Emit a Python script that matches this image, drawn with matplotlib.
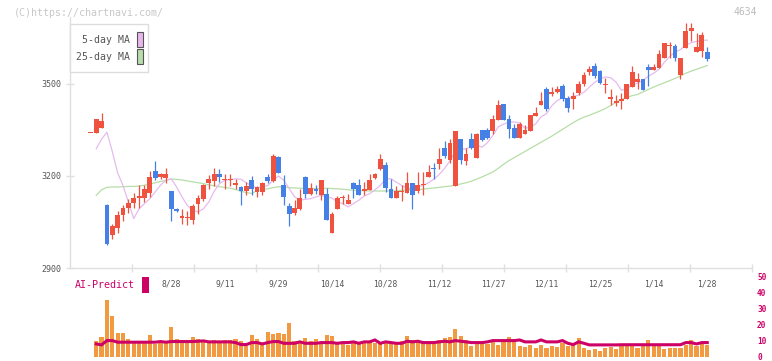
import matplotlib
matplotlib.use('Agg')
import matplotlib.pyplot as plt
import numpy as np
from matplotlib.patches import Rectangle

plt.rcParams['font.family'] = ['DejaVu Sans Mono']

# ---------------- data ----------------
# first entry is the lone doji before the first full trading day shown
open_ = [3341,
 3341, 3358, 3104, 3006, 3031, 3074, 3094, 3112, 3128, 3129,
 3145, 3215, 3198, 3193, 3152, 3093, 3064, 3062, 3055, 3110,
 3126, 3178, 3185, 3206, 3188, 3188, 3169, 3163, 3150, 3188,
 3148, 3148, 3198, 3185, 3262, 3172, 3103, 3080, 3093, 3198,
 3140, 3159, 3137, 3142, 3015, 3093, 3127, 3110, 3178, 3172,
 3150, 3155, 3194, 3224, 3235, 3159, 3129, 3149, 3145, 3178,
 3150, 3171, 3198, 3226, 3240, 3292, 3253, 3166, 3322, 3250,
 3322, 3260, 3351, 3351, 3348, 3384, 3436, 3387, 3357, 3325,
 3338, 3348, 3396, 3432, 3485, 3468, 3475, 3495, 3455, 3450,
 3472, 3500, 3539, 3558, 3541, 3497, 3452, 3439, 3443, 3452,
 3489, 3508, 3517, 3555, 3544, 3553, 3585, 3624, 3624, 3528,
 3618, 3672, 3604, 3607, 3604]
high = [3341,
 3387, 3406, 3109, 3044, 3087, 3107, 3126, 3146, 3172, 3172,
 3215, 3248, 3211, 3227, 3152, 3095, 3093, 3087, 3109, 3137,
 3174, 3204, 3227, 3224, 3206, 3206, 3191, 3167, 3180, 3200,
 3167, 3182, 3208, 3273, 3265, 3202, 3113, 3122, 3159, 3200,
 3178, 3172, 3188, 3162, 3082, 3136, 3139, 3142, 3182, 3191,
 3182, 3208, 3210, 3273, 3245, 3189, 3168, 3169, 3214, 3178,
 3214, 3214, 3236, 3243, 3292, 3313, 3322, 3348, 3322, 3292,
 3341, 3341, 3351, 3355, 3400, 3447, 3436, 3400, 3370, 3377,
 3365, 3400, 3426, 3475, 3490, 3490, 3495, 3500, 3460, 3475,
 3510, 3540, 3560, 3569, 3545, 3520, 3483, 3463, 3472, 3501,
 3559, 3537, 3517, 3566, 3566, 3612, 3635, 3637, 3631, 3585,
 3700, 3700, 3667, 3670, 3621]
low = [3341,
 3341, 3358, 2974, 2995, 3015, 3052, 3080, 3094, 3094, 3115,
 3131, 3188, 3191, 3178, 3052, 3083, 3044, 3041, 3044, 3077,
 3120, 3156, 3167, 3180, 3156, 3167, 3156, 3106, 3139, 3137,
 3130, 3139, 3176, 3180, 3211, 3106, 3036, 3074, 3090, 3128,
 3138, 3142, 3123, 3057, 3015, 3093, 3110, 3110, 3129, 3139,
 3137, 3155, 3190, 3220, 3148, 3129, 3129, 3120, 3145, 3093,
 3145, 3139, 3198, 3191, 3222, 3259, 3243, 3166, 3240, 3236,
 3289, 3260, 3313, 3320, 3338, 3384, 3384, 3325, 3325, 3325,
 3338, 3348, 3396, 3432, 3411, 3460, 3470, 3445, 3409, 3419,
 3465, 3495, 3530, 3520, 3499, 3472, 3432, 3428, 3419, 3452,
 3489, 3485, 3479, 3495, 3544, 3553, 3585, 3585, 3574, 3515,
 3618, 3641, 3604, 3588, 3574]
close = [3341,
 3387, 3380, 2979, 3036, 3074, 3097, 3113, 3129, 3135, 3159,
 3198, 3193, 3206, 3207, 3091, 3085, 3068, 3066, 3102, 3129,
 3169, 3189, 3206, 3198, 3190, 3190, 3178, 3150, 3167, 3156,
 3163, 3178, 3185, 3265, 3211, 3130, 3076, 3097, 3129, 3140,
 3162, 3150, 3188, 3057, 3076, 3129, 3129, 3122, 3156, 3139,
 3159, 3188, 3207, 3256, 3162, 3129, 3150, 3151, 3178, 3139,
 3172, 3173, 3214, 3222, 3256, 3264, 3309, 3348, 3251, 3273,
 3292, 3338, 3318, 3325, 3387, 3432, 3384, 3354, 3325, 3368,
 3349, 3400, 3406, 3443, 3419, 3475, 3485, 3452, 3422, 3462,
 3500, 3530, 3550, 3525, 3504, 3501, 3456, 3443, 3452, 3501,
 3539, 3517, 3481, 3544, 3555, 3598, 3635, 3628, 3585, 3585,
 3674, 3684, 3621, 3661, 3582]

ma5 = [3289, 3320, 3343, 3280, 3210, 3169, 3115, 3061, 3093, 3110,
 3126, 3148, 3170, 3186, 3191, 3164, 3132, 3104, 3088, 3083,
 3093, 3115, 3150, 3175, 3186, 3188, 3191, 3189, 3178, 3168,
 3161, 3164, 3169, 3186, 3200, 3186, 3159, 3132, 3121, 3124,
 3126, 3132, 3137, 3132, 3128, 3115, 3110, 3099, 3110, 3121,
 3135, 3142, 3155, 3169, 3191, 3191, 3180, 3169, 3159, 3160,
 3164, 3170, 3178, 3190, 3205, 3225, 3250, 3280, 3286, 3289,
 3295, 3300, 3294, 3309, 3332, 3360, 3369, 3376, 3376, 3373,
 3356, 3359, 3370, 3393, 3403, 3429, 3446, 3455, 3451, 3459,
 3464, 3473, 3490, 3505, 3517, 3523, 3520, 3506, 3479, 3485,
 3495, 3503, 3512, 3525, 3535, 3548, 3571, 3590, 3604, 3612,
 3626, 3635, 3639, 3642, 3643]
ma25 = [3137, 3155, 3163, 3164, 3164, 3165, 3166, 3166, 3167, 3170,
 3174, 3178, 3182, 3186, 3190, 3189, 3187, 3184, 3181, 3178,
 3175, 3171, 3168, 3165, 3163, 3160, 3156, 3150, 3146, 3143,
 3152, 3156, 3158, 3162, 3165, 3164, 3162, 3161, 3160, 3159,
 3159, 3159, 3159, 3160, 3159, 3158, 3157, 3155, 3154, 3153,
 3152, 3151, 3151, 3151, 3151, 3151, 3152, 3153, 3154, 3155,
 3156, 3157, 3159, 3161, 3163, 3165, 3167, 3170, 3174, 3178,
 3183, 3190, 3197, 3205, 3213, 3225, 3238, 3250, 3260, 3270,
 3280, 3290, 3300, 3310, 3320, 3330, 3341, 3352, 3363, 3374,
 3384, 3392, 3398, 3405, 3412, 3420, 3430, 3440, 3450, 3456,
 3462, 3466, 3474, 3482, 3490, 3497, 3504, 3511, 3518, 3526,
 3535, 3542, 3548, 3554, 3560]

volume = [9.6, 12.5, 35.8, 25.6, 14.6, 14.6, 10.8, 8.75, 8.75, 8.75,
 13.3, 7.7, 8.75, 8.75, 18.3, 10.8, 10.0, 8.75, 12.0, 10.8,
 10.0, 8.75, 10.4, 9.4, 10.4, 10.4, 11.25, 10.0, 6.7, 13.75,
 11.25, 8.75, 15.6, 14.4, 15.0, 14.4, 21.25, 10.0, 8.75, 11.9,
 10.0, 11.25, 8.75, 13.75, 13.1, 8.3, 8.75, 7.1, 10.0, 7.9,
 8.75, 9.2, 8.75, 8.75, 8.75, 8.75, 7.9, 9.6, 13.1, 10.6,
 10.0, 8.75, 7.9, 8.75, 10.6, 11.9, 12.5, 17.5, 13.1, 10.6,
 6.9, 8.75, 8.75, 7.9, 9.4, 7.5, 10.0, 12.5, 10.0, 6.9,
 6.25, 7.5, 5.6, 7.5, 5.6, 6.9, 6.25, 8.75, 6.9, 7.5,
 11.9, 5.6, 4.4, 5.0, 3.75, 5.6, 6.25, 5.0, 6.5, 6.5,
 6.5, 5.6, 6.5, 10.6, 6.5, 6.5, 5.0, 5.6, 5.6, 5.6,
 7.5, 10.6, 6.9, 9.2, 7.5]
ai_predict = [7.9, 7.3, 10.0, 10.0, 9.0, 9.0, 9.0, 9.0, 9.0, 9.0,
 9.0, 9.0, 9.4, 9.0, 9.4, 9.4, 9.4, 9.4, 9.4, 9.6,
 9.8, 9.2, 9.2, 9.2, 9.2, 9.2, 8.75, 7.5, 7.5, 8.75,
 8.75, 7.9, 8.75, 9.4, 9.4, 8.3, 8.3, 8.3, 9.2, 8.3,
 8.3, 8.3, 8.75, 8.75, 8.75, 8.3, 8.75, 8.75, 9.2, 8.3,
 9.2, 9.2, 10.4, 8.3, 9.2, 8.75, 8.3, 8.3, 9.6, 9.2,
 9.6, 8.75, 8.75, 8.75, 9.2, 9.6, 9.2, 10.0, 9.6, 9.2,
 8.75, 8.75, 8.75, 9.2, 10.0, 10.0, 10.0, 10.0, 10.0, 10.4,
 9.2, 9.2, 9.2, 10.4, 9.2, 9.2, 9.2, 10.0, 8.3, 7.5,
 9.2, 8.3, 7.3, 7.3, 7.3, 7.3, 7.3, 7.3, 7.4, 7.4,
 7.4, 7.4, 7.4, 7.4, 7.4, 7.4, 7.4, 7.4, 7.4, 7.4,
 8.75, 8.75, 7.9, 8.75, 8.75]

date_labels = ['8/28', '9/11', '9/29', '10/14', '10/28', '11/12',
               '11/27', '12/11', '12/25', '1/14', '1/28']
price_ticks = [2900, 3200, 3500]
ai_ticks = [0, 10, 20, 30, 40, 50]

# ---------------- styling ----------------
UP = '#ef5340'
DOWN = '#4580e6'
MA5_C = '#e6bbef'
MA25_C = '#b6dea8'
VOL_C = '#f29a42'
AI_C = '#cc0066'
GRID_C = '#e0e0e0'
TXT_C = '#555555'

W, H = 772, 361
fig = plt.figure(figsize=(W / 100, H / 100), dpi=100)


def frac(x0, y0, x1, y1):
    return [x0 / W, 1 - y1 / H, (x1 - x0) / W, (y1 - y0) / H]


XLIM = (-4.89, 122.35)

o = np.array(open_, float)
h = np.array(high, float)
l = np.array(low, float)
c = np.array(close, float)
xc = np.arange(len(o)) - 1          # candle positions (pre-day at -1)
xd = np.arange(len(volume))         # daily positions

# ---------------- price panel ----------------
ax = fig.add_axes(frac(70, 16.5, 752, 268))
ax.set_xlim(*XLIM)
ax.set_ylim(2900, 3720)
ax.set_facecolor('none')

ax.plot(xd, ma25, color=MA25_C, lw=0.9, zorder=2)
ax.plot(xd, ma5, color=MA5_C, lw=0.9, zorder=2)

cols = [UP if cc >= oo else DOWN for oo, cc in zip(o, c)]
ax.vlines(xc, l, h, colors=cols, lw=0.9, zorder=3)
ax.bar(xc, np.maximum(np.abs(c - o), 3.0), bottom=np.minimum(o, c),
       width=0.9, color=cols, linewidth=0, zorder=4)

for s in ('top', 'right'):
    ax.spines[s].set_visible(False)
for s in ('left', 'bottom'):
    ax.spines[s].set_color(GRID_C)
    ax.spines[s].set_linewidth(1.0)

ax.set_yticks(price_ticks)
ax.set_yticklabels([str(v) for v in price_ticks])
ax.tick_params(axis='y', direction='inout', length=6, width=1, color=GRID_C,
               pad=3.5, labelsize=6, labelcolor=TXT_C)
ax.set_xticks(np.arange(14, 115, 10))
ax.set_xticklabels(date_labels)
ax.tick_params(axis='x', which='major', length=0, pad=8.5, labelsize=5.8,
               labelcolor=TXT_C)
ax.set_xticks(np.linspace(XLIM[0], XLIM[1], 12)[1:], minor=True)
ax.tick_params(axis='x', which='minor', direction='inout', length=6,
               width=1, color=GRID_C)

# ---------------- AI-predict / volume panel ----------------
ax2 = fig.add_axes(frac(70, 277, 752, 356.5))
ax2.set_xlim(*XLIM)
ax2.set_ylim(0, 50)
ax2.set_facecolor('none')
ax2.bar(xd, volume, width=0.78, color=VOL_C, linewidth=0, zorder=2)
ax2.plot(xd, ai_predict, color=AI_C, lw=2.2, zorder=3,
         solid_joinstyle='miter')
for s in ax2.spines.values():
    s.set_visible(False)
ax2.set_xticks([])
ax2.yaxis.tick_right()
ax2.set_yticks(ai_ticks)
ax2.set_yticklabels([str(v) for v in ai_ticks])
ax2.tick_params(axis='y', length=0, pad=3.6, labelsize=5.6,
                labelcolor=AI_C)
for t in ax2.get_yticklabels():
    t.set_fontweight('bold')

# ---------------- overlay texts / legend ----------------
ov = fig.add_axes([0, 0, 1, 1], zorder=10)
ov.set_xlim(0, W)
ov.set_ylim(H, 0)
ov.axis('off')
ov.patch.set_visible(False)

ov.text(14, 12.5, '(C)https://chartnavi.com/', color='#c8c8c8',
        fontsize=7.2, ha='left', va='center')
ov.text(757, 12, '4634', color='#bbbbbb', fontsize=7, ha='right',
        va='center')

ov.add_patch(Rectangle((70, 24), 78, 48, facecolor='white',
                       edgecolor='#dddddd', lw=1))
ov.text(130, 40, '5-day MA', color=TXT_C, fontsize=7.1, ha='right',
        va='center')
ov.text(130, 57, '25-day MA', color=TXT_C, fontsize=7.1, ha='right',
        va='center')
ov.add_patch(Rectangle((137, 31.5), 6, 15, facecolor='#e8b6ea',
                       edgecolor='#555555', lw=0.8))
ov.add_patch(Rectangle((137, 49), 6, 14.5, facecolor='#b8dcaa',
                       edgecolor='#555555', lw=0.8))

ov.text(75, 285, 'AI-Predict', color=AI_C, fontsize=7.2, ha='left',
        va='center')
ov.add_patch(Rectangle((142, 277), 7, 16, facecolor=AI_C, edgecolor='none'))

fig.savefig('out.png', dpi=100)
